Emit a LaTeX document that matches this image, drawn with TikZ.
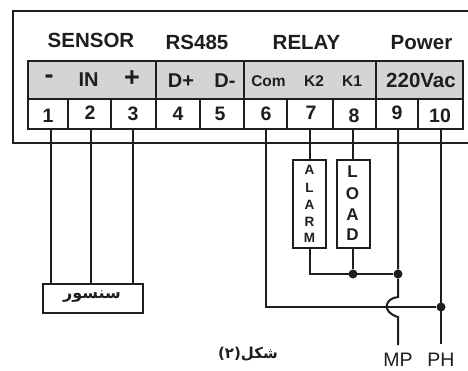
\documentclass[tikz,border=0pt]{standalone}
\usepackage{fontspec}
\setmainfont{Liberation Sans}
\newfontfamily\arabicfont[Script=Arabic]{DejaVu Sans}
\TeXXeTstate=1
\newcommand{\fs}[1]{\fontsize{#1}{#1}\selectfont}
\definecolor{ink}{HTML}{1E1E1E}
\definecolor{panel}{HTML}{D4D4D4}
\tikzset{
  wire/.style={draw=ink,line width=2pt},
  cellbox/.style={draw=ink,line width=2pt,fill=white,inner sep=0pt,outer sep=0pt,anchor=north west},
  graybox/.style={cellbox,fill=panel},
  head/.style={font=\bfseries\fs{20.5},text=ink,inner sep=0pt},
  tag/.style={font=\bfseries\fs{20},text=ink,inner sep=0pt},
  signtag/.style={font=\bfseries\fs{27},text=ink,inner sep=0pt},
  smalltag/.style={font=\bfseries\fs{15.5},text=ink,inner sep=0pt},
  num/.style={font=\bfseries\fs{19.5},text=ink,inner sep=0pt},
  letA/.style={font=\bfseries\fs{13.5},text=ink,inner sep=0pt},
  letL/.style={font=\bfseries\fs{17},text=ink,inner sep=0pt},
  plainlabel/.style={font=\fs{19.5},text=ink,inner sep=0pt},
  jdot/.style={circle,fill=ink,inner sep=0pt,minimum size=9pt}
}
\begin{document}
\begin{tikzpicture}[x=1pt,y=-1pt]
\useasboundingbox[fill=white] (0,0) rectangle (468,370);
% housing
\coordinate (hr) at (468,11);
\coordinate (hl) at (13,11);
\coordinate (bl) at (13,143);
\coordinate (br) at (468,143);
\draw[wire] (hr) -- (hl) -- (bl) -- (br);
% gray row
\node[graybox,minimum width=128pt,minimum height=38pt] (g1) at (28,61) {};
\node[graybox,minimum width=88pt,minimum height=38pt] (g2) at (156,61) {};
\node[graybox,minimum width=132pt,minimum height=38pt] (g3) at (244,61) {};
\node[graybox,minimum width=87pt,minimum height=38pt] (g4) at (376,61) {};
% number cells
\foreach \nn/\xa/\cw in {1/28/40,2/68/43,3/111/45,4/156/44,5/200/44,6/244/43,7/287/46,8/333/43,9/376/42,10/418/45}{
  \node[cellbox,minimum width=\cw pt,minimum height=30pt] (t\nn) at (\xa,99) {};
}
% headings
\node[head] (hsensor) at (91,40.5) {SENSOR};
\node[head] (hrs) at (197,42) {RS485};
\node[head] (hrelay) at (306.5,42.5) {RELAY};
\node[head] (hpower) at (421.5,43) {Power};
% terminal names
\node[signtag] (n1) at (49,79) {-};
\node[tag] (n2) at (88.5,80) {IN};
\node[signtag] (n3) at (132,79) {+};
\node[tag] (n4) at (181,81) {D+};
\node[tag] (n5) at (225,81) {D-};
\node[smalltag] (n6) at (268.5,81) {Com};
\node[smalltag] (n7) at (314,81) {K2};
\node[smalltag] (n8) at (352,81) {K1};
\node[head] (n9) at (421,80) {220Vac};
% numbers
\foreach \nn/\xa/\ya in {1/48/116,2/90/113,3/133/113.5,4/178/114,5/220/114,6/266/114,7/311/113,8/354/116,9/397/113,10/440/116}{
  \node[num] (d\nn) at (\xa,\ya) {\nn};
}
% load boxes
\node[cellbox,minimum width=33pt,minimum height=88pt] (alarm) at (293,160) {};
\node[cellbox,minimum width=33pt,minimum height=88pt] (load) at (337,160) {};
\foreach \ch/\ya [count=\k] in {A/170,L/188,A/205,R/222,M/238}{
  \node[letA] (a\k) at (309.5,\ya) {\ch};
}
\foreach \ch/\ya [count=\k] in {L/172,O/194,A/215,D/235}{
  \node[letL] (l\k) at (352.5,\ya) {\ch};
}
% sensor
\node[cellbox,minimum width=100pt,minimum height=29pt] (sensor) at (43,284) {};
\node[inner sep=0pt,text=ink] (sensortext) at (92,297) {\arabicfont\bfseries\fs{16}\beginR سنسور\endR};
\node[inner sep=0pt,text=ink] (caption) at (248,354) {\arabicfont\bfseries\fs{15}\beginR شکل(۲)\endR};
% wires
\coordinate (w1) at (51,129);
\coordinate (w2) at (91,129);
\coordinate (w3) at (133,129);
\coordinate (w6) at (266,129);
\coordinate (w7) at (310,129);
\coordinate (w8) at (353,129);
\coordinate (w9) at (398,129);
\coordinate (w10) at (441,129);
\draw[wire] (w1) -- (w1 |- sensor.north);
\draw[wire] (w2) -- (w2 |- sensor.north);
\draw[wire] (w3) -- (w3 |- sensor.north);
\draw[wire] (w7) -- (w7 |- alarm.north);
\draw[wire] (w8) -- (w8 |- load.north);
% junctions and labels
\node[plainlabel] (mp) at (398,360) {MP};
\node[plainlabel] (ph) at (441,360) {PH};
\node[jdot] (j1) at (353,274) {};
\node[jdot] (j2) at (398,274) {};
\node[jdot] (j3) at (441,307) {};
\coordinate (mpend) at (398,345);
\coordinate (phend) at (441,344);
\coordinate (ha) at (398,297);
\coordinate (hb) at (398,317);
\draw[wire] (w7 |- alarm.south) -- (w7 |- j1) -- (j2);
\draw[wire] (w8 |- load.south) -- (j1);
\draw[wire] (w9) -- (j2) -- (ha) .. controls (385,298) and (381,312) .. (hb) -- (mpend);
\draw[wire] (w10) -- (phend);
\draw[wire] (w6) -- (w6 |- j3) -- (j3);
\end{tikzpicture}
\end{document}
